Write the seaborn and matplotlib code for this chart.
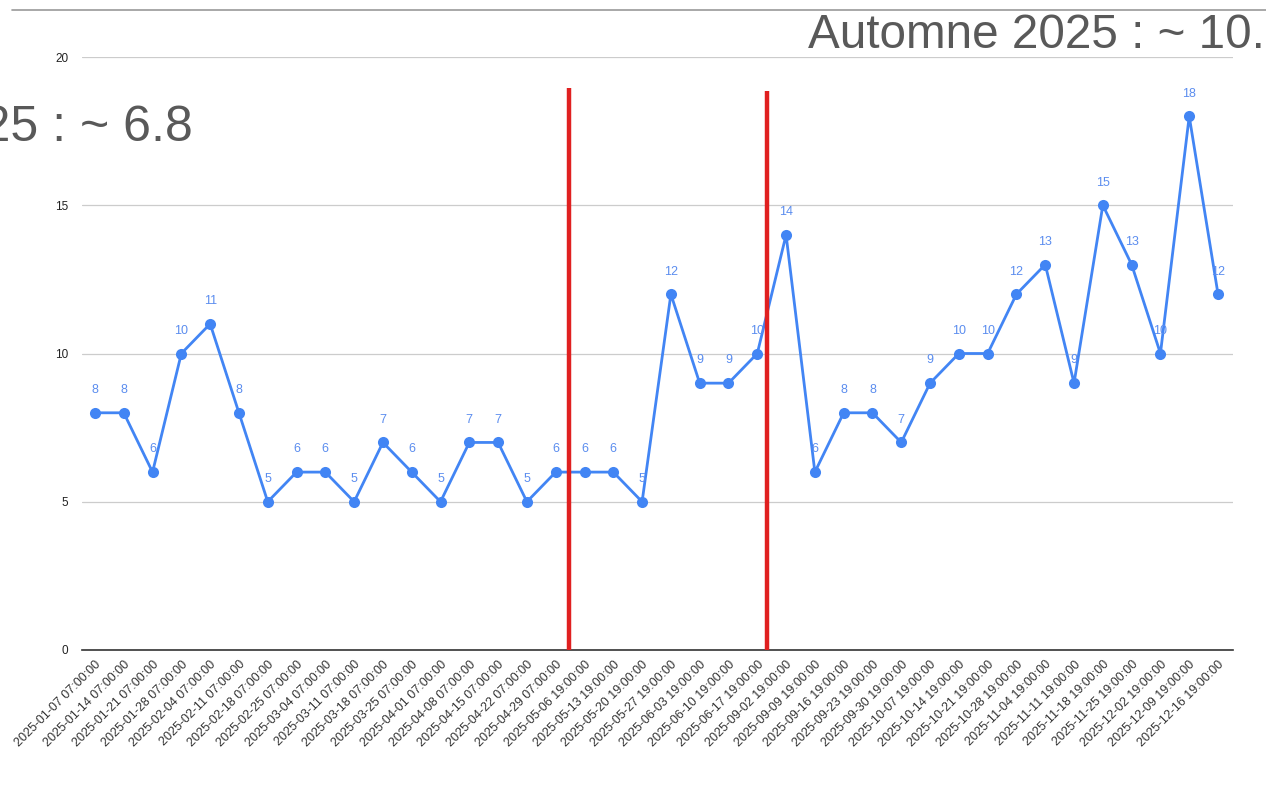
import numpy as np
import pandas as pd
import matplotlib
matplotlib.use('Agg')
import matplotlib.pyplot as plt
import seaborn as sns

# Data
dates = [
    '2025-01-07 07:00:00', '2025-01-14 07:00:00', '2025-01-21 07:00:00', '2025-01-28 07:00:00',
    '2025-02-04 07:00:00', '2025-02-11 07:00:00', '2025-02-18 07:00:00', '2025-02-25 07:00:00',
    '2025-03-04 07:00:00', '2025-03-11 07:00:00', '2025-03-18 07:00:00', '2025-03-25 07:00:00',
    '2025-04-01 07:00:00', '2025-04-08 07:00:00', '2025-04-15 07:00:00', '2025-04-22 07:00:00',
    '2025-04-29 07:00:00', '2025-05-06 19:00:00', '2025-05-13 19:00:00', '2025-05-20 19:00:00',
    '2025-05-27 19:00:00', '2025-06-03 19:00:00', '2025-06-10 19:00:00', '2025-06-17 19:00:00',
    '2025-09-02 19:00:00', '2025-09-09 19:00:00', '2025-09-16 19:00:00', '2025-09-23 19:00:00',
    '2025-09-30 19:00:00', '2025-10-07 19:00:00', '2025-10-14 19:00:00', '2025-10-21 19:00:00',
    '2025-10-28 19:00:00', '2025-11-04 19:00:00', '2025-11-11 19:00:00', '2025-11-18 19:00:00',
    '2025-11-25 19:00:00', '2025-12-02 19:00:00', '2025-12-09 19:00:00', '2025-12-16 19:00:00',
]
values = [8, 8, 6, 10, 11, 8, 5, 6, 6, 5, 7, 6, 5, 7, 7, 5, 6, 6, 6, 5,
          12, 9, 9, 10, 14, 6, 8, 8, 7, 9, 10, 10, 12, 13, 9, 15, 13, 10, 18, 12]
y_ticks = [0, 5, 10, 15, 20]

# hand-drawn red separators (position between weeks, top value)
sep_pos = [16.45, 23.35]
sep_top = [18.95, 18.85]

left_note = '2025 : ~ 6.8'
right_note = 'Automne 2025 : ~ 10.'

df = pd.DataFrame({'pos': np.arange(len(dates)), 'value': values})

sns.set_style('white')
plt.rcParams['font.family'] = ['Liberation Sans', 'DejaVu Sans']

W, H = 1266, 785
fig = plt.figure(figsize=(W / 100, H / 100), dpi=100)
ax = fig.add_axes([82 / W, (H - 650) / H, (1233 - 82) / W, (650 - 57) / H])

blue = '#4285f4'
sns.lineplot(data=df, x='pos', y='value', ax=ax, color=blue, linewidth=2,
             marker='o', markersize=8, markeredgewidth=0, zorder=3)

for x, v in zip(df['pos'], df['value']):
    ax.annotate(str(v), (x, v), xytext=(0, 12), textcoords='offset points',
                ha='center', va='bottom', fontsize=9, color='#5b8def', zorder=4)

for p, t in zip(sep_pos, sep_top):
    ax.plot([p, p], [0, t], color='#e02020', linewidth=3.2, zorder=5, solid_capstyle='butt')

ax.set_xlim(-0.45, len(dates) - 1 + 0.52)
ax.set_ylim(0, 20)
ax.set_yticks(y_ticks)
ax.set_yticklabels([str(t) for t in y_ticks], fontsize=8.5, color='#222222')
ax.set_xticks(df['pos'])
ax.set_xticklabels(dates, rotation=45, ha='right', rotation_mode='anchor',
                   fontsize=9, color='#333333')
ax.tick_params(axis='x', length=0, pad=6)
ax.tick_params(axis='y', length=0, pad=10)
ax.grid(axis='y', color='#cccccc', linewidth=0.9)
ax.set_axisbelow(True)
ax.set_xlabel('')
ax.set_ylabel('')
for s in ['top', 'right', 'left']:
    ax.spines[s].set_visible(False)
ax.spines['bottom'].set_color('#333333')
ax.spines['bottom'].set_linewidth(1.2)

# slide decorations
fig.add_artist(plt.Line2D([12 / W, 1], [1 - 10 / H, 1 - 10 / H], color='#999999', linewidth=1.2))
fig.text(193 / W, 1 - 128 / H, left_note, ha='right', va='center', fontsize=36, color='#595959')
fig.text(808 / W, 1 - 36 / H, right_note, ha='left', va='center', fontsize=34.3, color='#595959')

fig.savefig('out.png', dpi=100)
